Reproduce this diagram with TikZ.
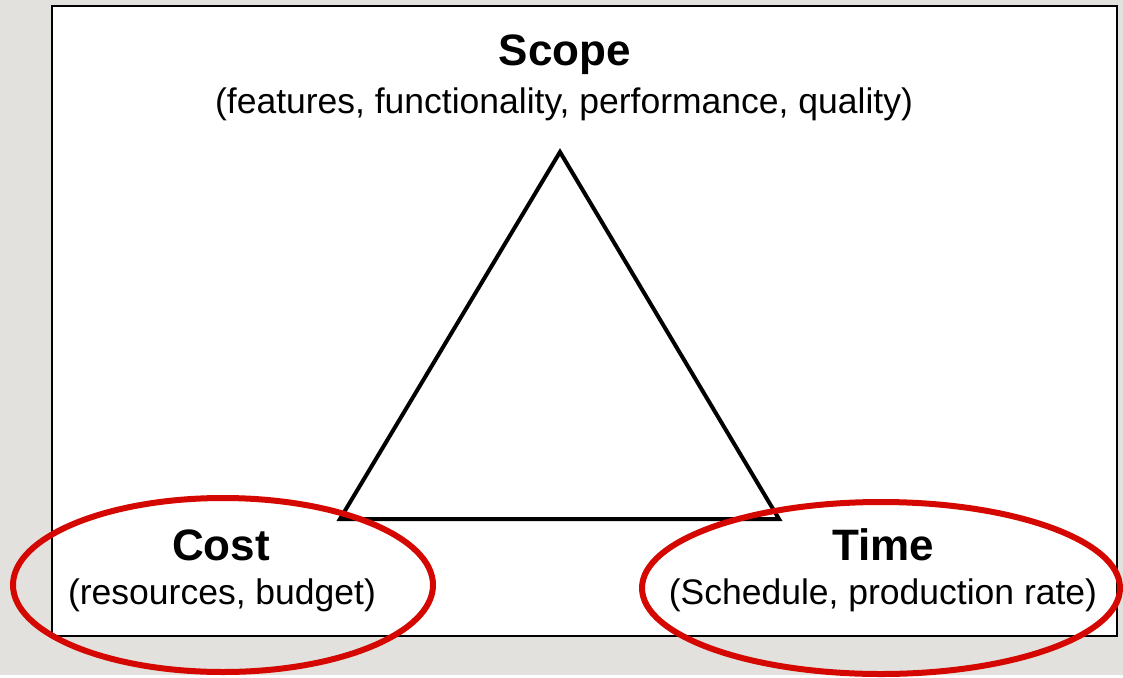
\documentclass[tikz,border=0pt]{standalone}
\usepackage{fontspec}
\setmainfont{Liberation Sans}
\usetikzlibrary{positioning}
\definecolor{paper}{RGB}{226,225,221}
\definecolor{markred}{RGB}{212,8,0}

\begin{document}
\begin{tikzpicture}[x=1pt,y=-1pt,
  every node/.style={inner sep=0pt},
  title/.style={font=\fontsize{44}{50}\selectfont\bfseries},
  subtitle/.style={font=\fontsize{35.5}{40}\selectfont},
  ring/.style={draw=markred,line width=6pt},]
\fill[paper] (0,0) rectangle (1123,675);
\draw[fill=white,line width=2.5pt] (52,6) rectangle (1117,636);

\coordinate (top) at (560,152);
\coordinate (left) at (340,519);
\coordinate (right) at (779,519);
\draw[line width=4pt,miter limit=10] (top) -- (left) -- (right) -- cycle;

\node (scope) [title] at (565,55) {Scope};
\node (scopesub) [subtitle] at (564,104) {(features, functionality, performance, quality)};
\node (cost) [title] at (221,545) {Cost};
\node (costsub) [subtitle] at (222,595) {(resources, budget)};
\node (time) [title] at (883,545) {Time};
\node (timesub) [subtitle] at (883,595) {(Schedule, production rate)};

\draw[ring] (223,585) ellipse [x radius=210,y radius=87];
\draw[ring] (881,588) ellipse [x radius=239,y radius=86];
\end{tikzpicture}
\end{document}
